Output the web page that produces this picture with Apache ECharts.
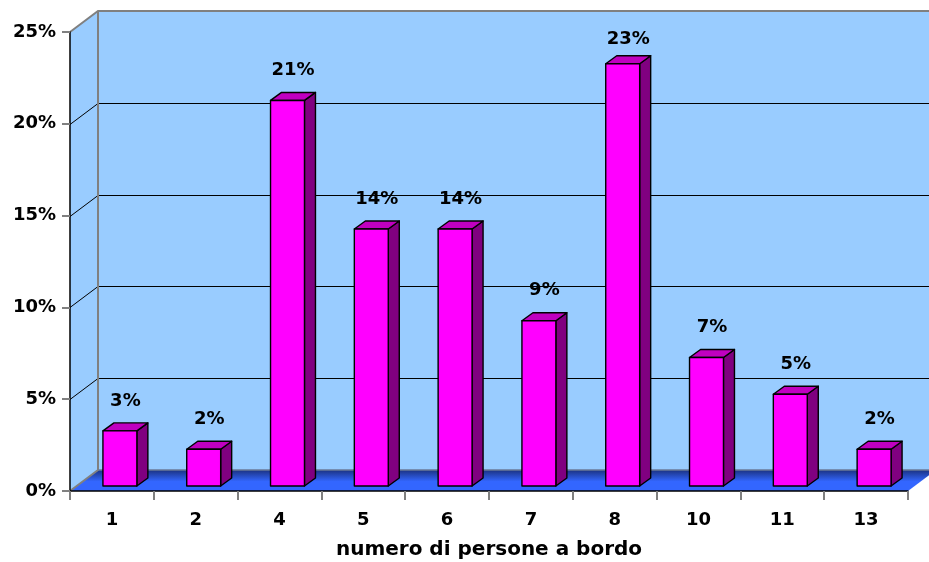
<!DOCTYPE html>
<html>
<head>
<meta charset="utf-8">
<script src="https://cdn.jsdelivr.net/npm/echarts@6/dist/echarts.min.js"></script>
<style>
  html, body { margin: 0; padding: 0; background: #ffffff; }
  #chart { width: 929px; height: 562px; }
</style>
</head>
<body>
<div id="chart"></div>
<script>
// Distribution of the number of people on board
const categories = ['1', '2', '4', '5', '6', '7', '8', '10', '11', '13'];
const shares = [3, 2, 21, 14, 14, 9, 23, 7, 5, 2];
const yMax = 25;
const yStep = 5;
const axisTitle = 'numero di persone a bordo';

// pseudo-3D geometry (pixels)
const WALL_DX = 28, WALL_DY = 21;   // depth of the back wall
const BAR_DX = 8, BAR_DY = 5;       // bar front face set back into the floor
const BOX_DX = 11, BOX_DY = 8;      // depth of each bar box
const FONT = '"DejaVu Sans", Verdana, sans-serif';

const chart = echarts.init(document.getElementById('chart'), null, { renderer: 'canvas' });

function renderWalls(params, api) {
  const cw = api.size([1, 0])[0];
  const x0 = api.coord([0, 0])[0] - cw / 2;
  const x1 = api.coord([categories.length - 1, 0])[0] + cw / 2;
  const y = v => api.coord([0, v])[1];
  const yTop = y(yMax), yBase = y(0);
  const bx0 = x0 + WALL_DX, bx1 = x1 + WALL_DX;
  const children = [];
  // side wall
  children.push({
    type: 'polygon',
    shape: { points: [[x0, yTop], [bx0, yTop - WALL_DY], [bx0, yBase - WALL_DY], [x0, yBase]] },
    style: { fill: '#99ccff' }
  });
  // back wall
  children.push({
    type: 'rect',
    shape: { x: bx0, y: yTop - WALL_DY, width: bx1 - bx0, height: yBase - yTop },
    style: { fill: '#99ccff' }
  });
  // floor
  children.push({
    type: 'polygon',
    shape: { points: [[x0, yBase], [x1, yBase], [bx1, yBase - WALL_DY], [bx0, yBase - WALL_DY]] },
    style: {
      fill: new echarts.graphic.LinearGradient(0, 0, 0, 1, [
        { offset: 0, color: '#1b3282' },
        { offset: 0.55, color: '#3366ff' },
        { offset: 1, color: '#3366ff' }
      ])
    }
  });
  // grid lines on the side and back walls
  for (let v = yStep; v < yMax; v += yStep) {
    const gy = Math.round(y(v)) + 0.5;
    children.push({
      type: 'polyline',
      shape: { points: [[x0, gy], [bx0, gy - WALL_DY], [bx1, gy - WALL_DY]] },
      style: { stroke: '#000000', lineWidth: 1, fill: null }
    });
  }
  // wall edges
  children.push({
    type: 'polyline',
    shape: { points: [[x0, yTop], [bx0, yTop - WALL_DY], [bx1, yTop - WALL_DY]] },
    style: { stroke: '#808080', lineWidth: 2, fill: null }
  });
  children.push({
    type: 'polyline',
    shape: { points: [[x0, yBase], [bx0, yBase - WALL_DY], [bx0, yTop - WALL_DY]] },
    style: { stroke: '#808080', lineWidth: 2, fill: null }
  });
  children.push({
    type: 'line',
    shape: { x1: bx0, y1: yBase - WALL_DY, x2: bx1, y2: yBase - WALL_DY },
    style: { stroke: '#6a7a98', lineWidth: 1.5 }
  });
  return { type: 'group', children: children };
}

function renderBar(params, api) {
  const idx = api.value(0);
  const v = api.value(1);
  const base = api.coord([idx, 0]);
  const top = api.coord([idx, v]);
  const ceil = api.coord([idx, yMax])[1];
  const cw = api.size([1, 0])[0];
  const bw = cw * 0.405;
  const xl = base[0] - bw / 2 + BAR_DX;
  const xr = xl + bw;
  const yb = base[1] - BAR_DY;
  const yt = top[1] - BAR_DY;
  const edge = { stroke: '#000000', lineWidth: 1.4, lineJoin: 'round' };
  return {
    type: 'group',
    children: [
      {
        type: 'polygon',
        shape: { points: [[xr, yt], [xr + BOX_DX, yt - BOX_DY], [xr + BOX_DX, yb - BOX_DY], [xr, yb]] },
        style: Object.assign({ fill: '#800080' }, edge)
      },
      {
        type: 'polygon',
        shape: { points: [[xl, yt], [xr, yt], [xr + BOX_DX, yt - BOX_DY], [xl + BOX_DX, yt - BOX_DY]] },
        style: Object.assign({ fill: '#c000c0' }, edge)
      },
      {
        type: 'rect',
        shape: { x: xl, y: yt, width: bw, height: yb - yt },
        style: Object.assign({ fill: '#ff00ff' }, edge)
      },
      {
        type: 'text',
        style: {
          x: (xl + xr) / 2 + BOX_DX / 2,
          y: Math.max(yt - 30, ceil + 7),
          text: v + '%',
          align: 'center',
          verticalAlign: 'middle',
          font: 'bold 18px ' + FONT,
          fill: '#000000'
        }
      }
    ]
  };
}

chart.setOption({
  animation: false,
  backgroundColor: '#ffffff',
  grid: { left: 70, right: 21, top: 32, bottom: 71, containLabel: false, outerBoundsMode: 'none' },
  xAxis: {
    type: 'category',
    data: categories,
    z: 5,
    boundaryGap: true,
    axisLine: { show: true, lineStyle: { color: '#000000', width: 1.5 } },
    axisTick: { show: true, length: 9, interval: 0, lineStyle: { color: '#808080', width: 2 } },
    axisLabel: { margin: 20, color: '#000000', fontFamily: FONT, fontWeight: 'bold', fontSize: 18, interval: 0 },
    splitLine: { show: false },
    name: axisTitle,
    nameLocation: 'middle',
    nameGap: 49,
    nameTextStyle: { color: '#000000', fontFamily: FONT, fontWeight: 'bold', fontSize: 20 }
  },
  yAxis: {
    type: 'value',
    min: 0,
    max: yMax,
    interval: yStep,
    z: 5,
    axisLine: { show: true, lineStyle: { color: '#000000', width: 1.5 } },
    axisTick: { show: true, length: 8, lineStyle: { color: '#808080', width: 2 } },
    axisLabel: { margin: 14, formatter: '{value}%', color: '#000000', fontFamily: FONT, fontWeight: 'bold', fontSize: 18 },
    splitLine: { show: false }
  },
  series: [
    {
      type: 'custom',
      z: 1,
      silent: true,
      clip: false,
      renderItem: renderWalls,
      data: [[0, 0]]
    },
    {
      type: 'custom',
      z: 3,
      clip: false,
      renderItem: renderBar,
      data: shares.map((v, i) => [i, v])
    }
  ]
});
</script>
</body>
</html>
